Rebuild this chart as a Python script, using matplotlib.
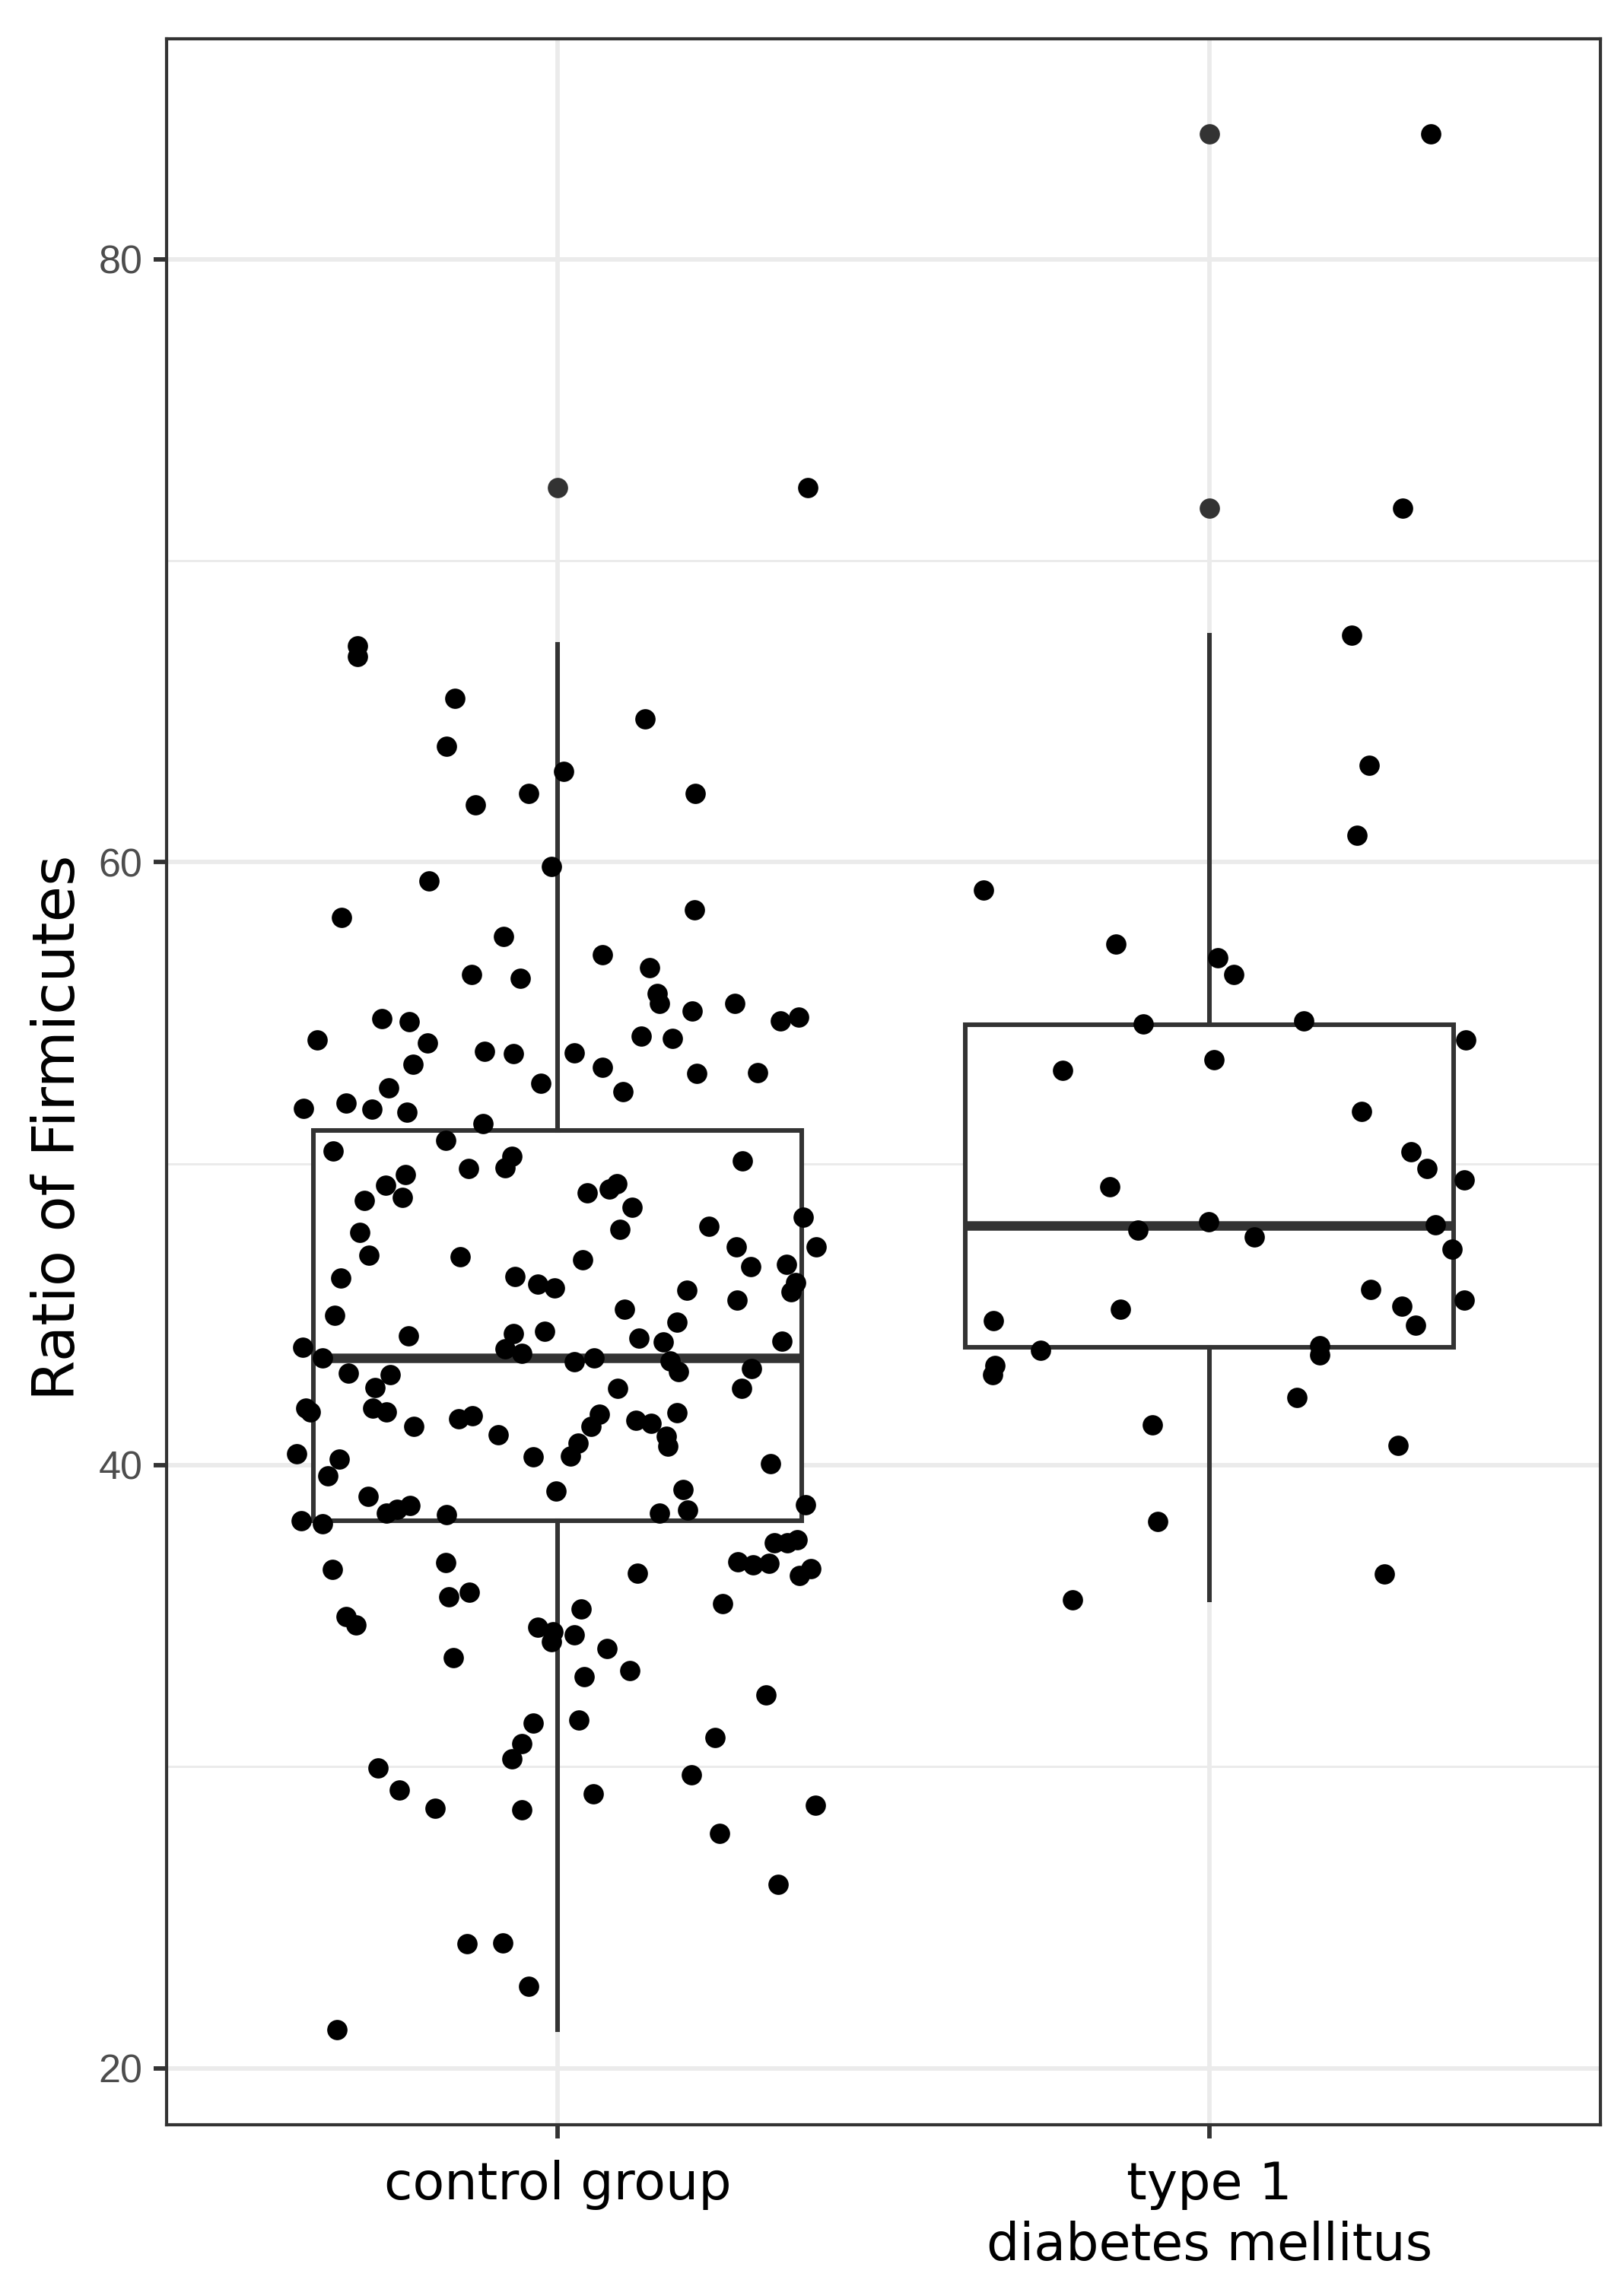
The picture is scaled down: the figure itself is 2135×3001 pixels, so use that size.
import numpy as np
import matplotlib
matplotlib.use("Agg")
import matplotlib.pyplot as plt
from matplotlib.ticker import FixedLocator

groups = ["control group", "type 1\ndiabetes mellitus"]
positions = [1, 2]

# control group: horizontal jitter offset and ratio value of each point
ctrl_jit = [-0.307, -0.307, -0.158, 0.134, -0.170, 0.009, 0.384,
            -0.045, 0.211, -0.126, -0.009, -0.197, -0.331, 0.210, -0.083, 0.069, 0.141,
            -0.132, -0.057, 0.153, 0.156, 0.272, 0.207, 0.342, 0.370, -0.270, -0.228,
            -0.369, -0.200, 0.128, 0.176, -0.112, -0.068, 0.026, 0.069, -0.222, 0.213,
            0.307, -0.259, -0.026, 0.100, -0.390, -0.324, -0.285, -0.231, -0.115, -0.172,
            -0.344, -0.070, 0.284,
            -0.137, -0.081, -0.233, -0.264, -0.238, -0.297, 0.045, 0.079, 0.091, 0.114,
            0.096, 0.232, 0.377, 0.397, -0.303, -0.290, 0.274, 0.296, 0.351, 0.365,
            0.358, -0.150, 0.038, -0.333, -0.066, -0.030, -0.005, 0.198, 0.275, 0.103,
            -0.342, 0.183, -0.229, -0.068, -0.020, 0.125, 0.162, 0.344, -0.391, -0.361,
            -0.081, -0.055, 0.026, 0.056, 0.173, 0.185, 0.297, -0.321, -0.257, 0.092,
            0.282, -0.280, -0.284, -0.263, -0.386, -0.379, -0.221, -0.152, -0.131, -0.091,
            0.064, 0.051, 0.120, 0.143, 0.167, 0.169, 0.183, 0.031, 0.020, -0.038,
            -0.400, -0.335, -0.352, 0.327, -0.291, -0.002, 0.192, -0.226, -0.246, -0.263,
            -0.170, 0.156, 0.199, 0.380, -0.394, -0.361,
            0.352, 0.333, 0.368, 0.277, 0.300, 0.324, 0.388, 0.371, 0.122, -0.346,
            -0.172, -0.167, -0.135, 0.253, 0.036, -0.324, -0.309, -0.030, -0.007, -0.010,
            0.026, 0.076, 0.111, 0.041, -0.160, 0.320, -0.037, 0.032, -0.055, -0.070,
            0.241, -0.276, 0.205, -0.243, 0.055, -0.188, -0.055, 0.396, 0.249, 0.338,
            -0.139, -0.084, -0.044, -0.338]
ctrl_val = [67.18, 66.83, 65.44, 64.76, 63.83, 63.02, 72.42,
            62.27, 62.27, 61.89, 59.85, 59.37, 58.17, 58.41, 57.54, 56.93, 56.50,
            56.27, 56.15, 55.63, 55.31, 55.31, 55.06, 54.74, 54.86, 54.81, 54.71,
            54.11, 54.00, 54.23, 54.15, 53.73, 53.65, 53.68, 53.20, 53.30, 53.00,
            53.03, 52.52, 52.67, 52.39, 51.84, 52.01, 51.81, 51.71, 51.33, 50.78,
            50.43, 50.25, 50.08,
            49.83, 49.87, 49.64, 49.29, 48.87, 48.78, 49.02, 49.16, 49.33, 48.55,
            47.82, 47.93, 48.23, 47.23, 47.73, 46.97, 47.25, 46.59, 46.67, 46.05,
            45.76, 46.90, 46.81, 46.20, 46.26, 46.01, 45.87, 45.81, 45.47, 45.16,
            44.98, 44.74, 44.30, 44.36, 44.44, 44.21, 44.08, 44.11, 43.91, 43.56,
            43.85, 43.72, 43.43, 43.56, 43.45, 43.11, 43.20, 43.06, 42.99, 42.56,
            42.54, 42.57, 41.90, 41.76, 41.88, 41.77, 41.28, 41.54, 41.65, 41.01,
            41.69, 41.28, 41.49, 41.39, 40.97, 40.64, 41.73, 40.74, 40.30, 40.28,
            40.39, 40.20, 39.65, 40.05, 38.96, 39.14, 39.18, 38.66, 38.54, 38.41,
            38.37, 38.41, 38.51, 38.69, 38.17, 38.06,
            37.42, 37.42, 37.53, 36.79, 36.69, 36.75, 36.57, 36.33, 36.41, 36.55,
            36.76, 35.64, 35.79, 35.42, 35.23, 34.99, 34.69, 34.63, 34.47, 34.15,
            34.37, 33.92, 33.20, 32.99, 33.61, 32.38, 31.44, 31.55, 30.77, 30.25,
            30.96, 29.95, 29.74, 29.22, 29.11, 28.63, 28.58, 28.73, 27.78, 26.10,
            24.14, 24.15, 22.71, 21.27]

# type 1 diabetes mellitus
t1d_jit = [0.340, 0.296, 0.218, 0.245, 0.227, -0.347, -0.144, 0.013, 0.037, -0.102,
           0.145, 0.394, -0.225, 0.007, 0.233, 0.309, 0.334, 0.391, -0.153, -0.110,
           -0.001, 0.069, 0.347, 0.372, 0.248, 0.295, 0.316, 0.391, -0.331, -0.137,
           -0.259, 0.169, 0.169, -0.329, -0.333, 0.134, -0.087, 0.290, -0.079, 0.269,
           -0.210]
t1d_val = [84.16, 71.74, 67.53, 63.20, 60.88, 59.07, 57.28, 56.83, 56.28, 54.62,
           54.74, 54.11, 53.09, 53.44, 51.74, 50.40, 49.84, 49.47, 49.24, 47.79,
           48.07, 47.57, 47.96, 47.16, 45.83, 45.28, 44.63, 45.48, 44.79, 45.16,
           43.80, 43.95, 43.66, 43.31, 42.99, 42.24, 41.33, 40.65, 38.12, 36.40,
           35.53]

# box summaries: q1, median, q3, lower / upper whisker, outliers
box_q1 = [38.16, 43.90]
box_med = [43.56, 47.95]
box_q3 = [51.09, 54.61]
box_lo = [21.27, 35.53]
box_hi = [67.22, 67.53]
box_out = [[72.42], [84.16, 71.74]]

y_ticks = [20, 40, 60, 80]
y_minor = [30, 50, 70]

W, H = 2135, 3001
fig = plt.figure(figsize=(W / 300, H / 300), dpi=300)
ax = fig.add_axes([219 / W, 1 - 2793 / H, (2104 - 219) / W, (2793 - 51) / H])

edge = "#333333"
stats = [dict(q1=box_q1[i], med=box_med[i], q3=box_q3[i], whislo=box_lo[i],
              whishi=box_hi[i], fliers=box_out[i]) for i in range(2)]
ax.bxp(stats, positions=positions, widths=0.75, showcaps=False, patch_artist=True,
       zorder=2,
       boxprops=dict(facecolor="white", edgecolor=edge, linewidth=1.45),
       medianprops=dict(color=edge, linewidth=3.0, solid_capstyle="butt"),
       whiskerprops=dict(color=edge, linewidth=1.45),
       flierprops=dict(marker="o", markerfacecolor=edge, markeredgecolor="none",
                       markersize=6.4))

ax.scatter(positions[0] + np.array(ctrl_jit), ctrl_val, s=41, c="black",
           linewidths=0, zorder=3)
ax.scatter(positions[1] + np.array(t1d_jit), t1d_val, s=41, c="black",
           linewidths=0, zorder=3)

allv = np.array(ctrl_val + t1d_val)
lo, hi = allv.min(), allv.max()
pad = 0.05 * (hi - lo)
ax.set_ylim(lo - pad, hi + pad)
ax.set_xlim(0.4, 2.6)

ax.set_yticks(y_ticks)
ax.yaxis.set_minor_locator(FixedLocator(y_minor))
ax.set_xticks(positions)
ax.set_xticklabels(groups, fontsize=16.4, color="black", family="DejaVu Sans",
                   linespacing=1.28)
ax.set_yticklabels([str(t) for t in y_ticks], fontsize=12.5, color="#4D4D4D",
                   family="Liberation Sans")

ax.set_axisbelow(True)
ax.grid(which="major", color="#EBEBEB", linewidth=1.4)
ax.grid(which="minor", axis="y", color="#EBEBEB", linewidth=0.7)
ax.tick_params(which="major", length=4.2, width=1.4, color=edge)
ax.tick_params(axis="y", pad=3.4)
ax.tick_params(axis="x", pad=6.8)
ax.tick_params(which="minor", length=0)
for sp in ax.spines.values():
    sp.set_color(edge)
    sp.set_linewidth(1.0)
    sp.set_zorder(5)

fig.text(77 / W, 1 - 1482 / H, "Ratio of Firmicutes", rotation=90, fontsize=18.5,
         ha="center", va="center", family="DejaVu Sans")

fig.savefig("out.png", dpi=300, facecolor="white")
